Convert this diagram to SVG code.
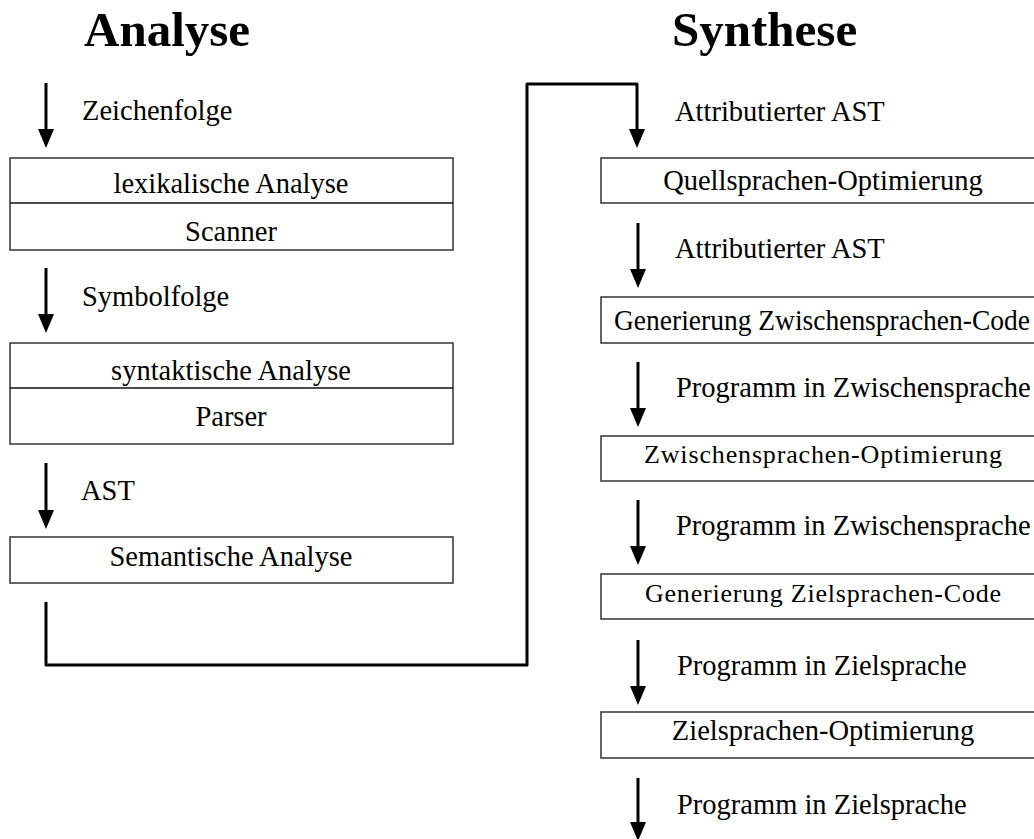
<svg xmlns="http://www.w3.org/2000/svg" width="1034" height="839" viewBox="0 0 1034 839">
<style>
.t{font-family:"Liberation Serif","Times New Roman",serif;font-size:28.5px;fill:#000}
.c{text-anchor:middle}
.h{font-family:"Liberation Serif","Times New Roman",serif;font-size:49px;font-weight:bold;fill:#000}
.b{fill:#fff;stroke:#333;stroke-width:1.5}
.d{stroke:#111;stroke-width:1.5}
.a{stroke:#000;stroke-width:3;fill:none}
.k{stroke:#000;stroke-width:3;fill:none;stroke-linejoin:round}
</style>
<defs>
<marker id="ah" viewBox="0 0 19 16" refX="0" refY="8" markerWidth="19" markerHeight="16" markerUnits="userSpaceOnUse" orient="auto">
<path d="M0,0 L19,8 L0,16 z" fill="#000"/>
</marker>
</defs>
<text class="h" x="84" y="46">Analyse</text>
<text class="h" x="672" y="46">Synthese</text>
<g id="connectors">
<path class="k" d="M46,602 V665 H527 V84 H637 V129" marker-end="url(#ah)"/>
<line class="a" x1="46" y1="83" x2="46" y2="129" marker-end="url(#ah)"/>
<line class="a" x1="46" y1="268" x2="46" y2="314" marker-end="url(#ah)"/>
<line class="a" x1="46" y1="463" x2="46" y2="510" marker-end="url(#ah)"/>
<line class="a" x1="638" y1="223" x2="638" y2="269" marker-end="url(#ah)"/>
<line class="a" x1="638" y1="362" x2="638" y2="408" marker-end="url(#ah)"/>
<line class="a" x1="638" y1="500" x2="638" y2="546" marker-end="url(#ah)"/>
<line class="a" x1="638" y1="640" x2="638" y2="686" marker-end="url(#ah)"/>
<line class="a" x1="638" y1="778" x2="638" y2="822" marker-end="url(#ah)"/>
</g>
<g id="labels">
<text class="t" x="82" y="120">Zeichenfolge</text>
<text class="t" x="82" y="306">Symbolfolge</text>
<text class="t" x="81" y="500">AST</text>
<text class="t" x="675" y="121">Attributierter AST</text>
<text class="t" x="675" y="258">Attributierter AST</text>
<text class="t" x="676" y="397">Programm in Zwischensprache</text>
<text class="t" x="676" y="535">Programm in Zwischensprache</text>
<text class="t" x="677" y="675">Programm in Zielsprache</text>
<text class="t" x="677" y="814">Programm in Zielsprache</text>
</g>
<g id="lexikalische-analyse">
<rect class="b" x="10" y="158" width="443" height="92"/>
<line class="d" x1="10" y1="203" x2="453" y2="203"/>
<text class="t c" x="231" y="193">lexikalische Analyse</text>
<text class="t c" x="231" y="241">Scanner</text>
</g>
<g id="syntaktische-analyse">
<rect class="b" x="10" y="343" width="443" height="101"/>
<line class="d" x1="10" y1="388" x2="453" y2="388"/>
<text class="t c" x="231" y="380">syntaktische Analyse</text>
<text class="t c" x="231" y="426">Parser</text>
</g>
<g id="semantische-analyse">
<rect class="b" x="10" y="537" width="443" height="46"/>
<text class="t c" x="231" y="566">Semantische Analyse</text>
</g>
<g id="quellsprachen-optimierung">
<rect class="b" x="601" y="158" width="450" height="45"/>
<text class="t c" x="823" y="190">Quellsprachen-Optimierung</text>
</g>
<g id="generierung-zwischensprachen-code">
<rect class="b" x="601" y="297" width="450" height="46"/>
<text class="t c" x="822" y="330" textLength="416" lengthAdjust="spacingAndGlyphs">Generierung Zwischensprachen-Code</text>
</g>
<g id="zwischensprachen-optimierung">
<rect class="b" x="601" y="436" width="450" height="45"/>
<text class="t c" x="823" y="463" style="font-size:26px" textLength="358" lengthAdjust="spacing">Zwischensprachen-Optimierung</text>
</g>
<g id="generierung-zielsprachen-code">
<rect class="b" x="601" y="574" width="450" height="45"/>
<text class="t c" x="823" y="602" style="font-size:26px" textLength="356" lengthAdjust="spacing">Generierung Zielsprachen-Code</text>
</g>
<g id="zielsprachen-optimierung">
<rect class="b" x="601" y="712" width="450" height="46"/>
<text class="t c" x="823" y="740">Zielsprachen-Optimierung</text>
</g>
</svg>
